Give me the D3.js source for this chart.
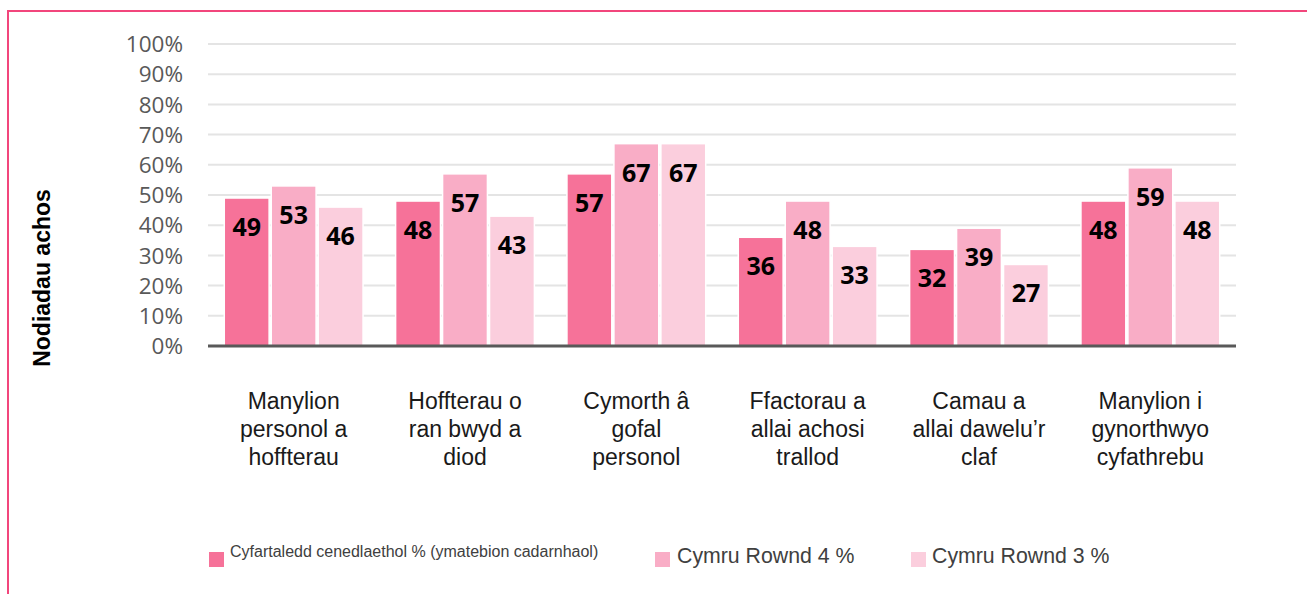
<!DOCTYPE html>
<html>
<head>
<meta charset="utf-8">
<script src="https://cdn.jsdelivr.net/npm/d3@7"></script>
<style>
  html, body { margin: 0; padding: 0; background: #fff; }
  svg { display: block; }
</style>
</head>
<body>
<svg id="chart" width="1307" height="594"></svg>
<script>
// ---- data ----
const categories = [
  ["Manylion", "personol a", "hoffterau"],
  ["Hoffterau o", "ran bwyd a", "diod"],
  ["Cymorth â", "gofal", "personol"],
  ["Ffactorau a", "allai achosi", "trallod"],
  ["Camau a", "allai dawelu’r", "claf"],
  ["Manylion i", "gynorthwyo", "cyfathrebu"]
];
const seriesNames = [
  "Cyfartaledd cenedlaethol % (ymatebion cadarnhaol)",
  "Cymru Rownd 4 %",
  "Cymru Rownd 3 %"
];
const nationalAvg = [49, 48, 57, 36, 32, 48];
const wales4 = [53, 57, 67, 48, 39, 59];
const wales3 = [46, 43, 67, 33, 27, 48];
const yTicks = [0, 10, 20, 30, 40, 50, 60, 70, 80, 90, 100];
const yTitle = "Nodiadau achos";

const seriesValues = [nationalAvg, wales4, wales3];
const colors = ["#f67299", "#f9adc6", "#fbcedd"];

const svg = d3.select("#chart");

// frame
svg.append("rect")
  .attr("x", 8).attr("y", 11)
  .attr("width", 1320).attr("height", 620)
  .attr("fill", "none")
  .attr("stroke", "#f2467c")
  .attr("stroke-width", 2);

const x0 = d3.scaleBand()
  .domain(d3.range(categories.length))
  .range([208, 1236])
  .paddingInner(0.19)
  .paddingOuter(0.095);

const x1 = d3.scaleBand()
  .domain(d3.range(seriesValues.length))
  .range([0, x0.bandwidth()])
  .paddingInner(0.045);

const y = d3.scaleLinear().domain([0, 100]).range([346, 44]);

// gridlines
svg.append("g")
  .selectAll("line")
  .data(yTicks.filter(t => t > 0))
  .join("line")
  .attr("x1", 208).attr("x2", 1236)
  .attr("y1", d => y(d)).attr("y2", d => y(d))
  .attr("stroke", "#e4e4e4")
  .attr("stroke-width", 2);

// y tick labels
svg.append("g")
  .selectAll("text")
  .data(yTicks)
  .join("text")
  .attr("x", 183)
  .attr("y", d => y(d))
  .attr("dy", "0.36em")
  .attr("text-anchor", "end")
  .attr("font-family", "'Open Sans', sans-serif")
  .attr("font-size", 22.5)
  .attr("fill", "#595959")
  .text(d => d + "%");

// bars
const groups = svg.append("g")
  .selectAll("g")
  .data(categories.map((c, i) => i))
  .join("g")
  .attr("transform", i => `translate(${x0(i)},0)`);

groups.selectAll("rect")
  .data(i => seriesValues.map((s, k) => ({ k, v: s[i] })))
  .join("rect")
  .attr("x", d => x1(d.k))
  .attr("width", x1.bandwidth())
  .attr("y", d => y(d.v))
  .attr("height", d => y(0) - y(d.v))
  .attr("fill", d => colors[d.k])
  .attr("stroke", "#fff")
  .attr("stroke-width", 1.5);

groups.selectAll("text")
  .data(i => seriesValues.map((s, k) => ({ k, v: s[i] })))
  .join("text")
  .attr("x", d => x1(d.k) + x1.bandwidth() / 2)
  .attr("y", d => y(d.v) + 29)
  .attr("dy", "0.36em")
  .attr("text-anchor", "middle")
  .attr("font-family", "'Open Sans', sans-serif")
  .attr("font-weight", 700)
  .attr("font-size", 25)
  .attr("fill", "#000")
  .text(d => d.v);

// axis baseline
svg.append("line")
  .attr("x1", 208).attr("x2", 1236)
  .attr("y1", y(0)).attr("y2", y(0))
  .attr("stroke", "#595959")
  .attr("stroke-width", 3);

// category labels
const catG = svg.append("g")
  .selectAll("text")
  .data(categories)
  .join("text")
  .attr("x", (d, i) => x0(i) + x0.bandwidth() / 2)
  .attr("y", 409)
  .attr("text-anchor", "middle")
  .attr("font-family", "'Liberation Sans', Arial, sans-serif")
  .attr("font-size", 23)
  .attr("fill", "#1a1a1a");
catG.selectAll("tspan")
  .data(d => d)
  .join("tspan")
  .attr("x", function () { return d3.select(this.parentNode).attr("x"); })
  .attr("dy", (d, j) => j === 0 ? 0 : 28)
  .text(d => d);

// y axis title
svg.append("text")
  .attr("transform", "translate(50,278) rotate(-90)")
  .attr("text-anchor", "middle")
  .attr("font-family", "'Liberation Sans', Arial, sans-serif")
  .attr("font-weight", 700)
  .attr("font-size", 23)
  .attr("fill", "#000")
  .text(yTitle);

// legend
const legendItems = [
  { x: 209, tx: 230, ty: 557, fs: 16 },
  { x: 655, tx: 677, ty: 563, fs: 21.3 },
  { x: 911, tx: 932, ty: 563, fs: 21.3 }
];
const lg = svg.append("g")
  .selectAll("g")
  .data(seriesNames.map((n, k) => ({ n, k })))
  .join("g");
lg.append("rect")
  .attr("x", d => legendItems[d.k].x)
  .attr("y", 552)
  .attr("width", 15).attr("height", 15)
  .attr("fill", d => colors[d.k]);
lg.append("text")
  .attr("x", d => legendItems[d.k].tx)
  .attr("y", d => legendItems[d.k].ty)
  .attr("font-family", "'Liberation Sans', Arial, sans-serif")
  .attr("font-size", d => legendItems[d.k].fs)
  .attr("fill", "#404040")
  .text(d => d.n);
</script>
</body>
</html>
